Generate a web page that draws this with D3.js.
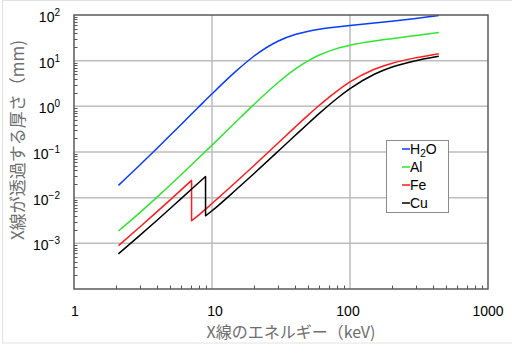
<!DOCTYPE html>
<html>
<head>
<meta charset="utf-8">
<script src="https://cdn.jsdelivr.net/npm/d3@7"></script>
<style>
  html, body { margin: 0; padding: 0; background: #fff; }
  svg { display: block; }
</style>
</head>
<body>
<svg id="chart" width="512" height="357"></svg>
<script>
// ---- data (attenuation length in mm vs X-ray energy in keV) ----
const energyKeV = [2.1, 3, 4, 5, 6, 8, 10, 15, 20, 30, 40, 50, 60, 80, 100, 150, 200, 300, 400, 440];
const h2oMm = [0.0186, 0.0518, 0.121, 0.235, 0.406, 0.964, 1.88, 5.98, 12.35, 26.6, 37.3, 44.1, 48.6, 54.4, 58.6, 66.4, 73.0, 84.3, 94.3, 97.9];
const alMm  = [0.00186, 0.0047, 0.01028, 0.01916, 0.0321, 0.0736, 0.1413, 0.466, 1.077, 3.285, 6.52, 10.07, 13.34, 18.36, 21.74, 26.9, 30.3, 35.6, 39.9, 41.6];
const feEnergyKeV = [2.1, 3, 4, 5, 6, 7.112, 7.112, 8, 10, 15, 20, 30, 40, 50, 60, 80, 100, 150, 200, 300, 400, 440];
const feMm  = [0.000888, 0.00228, 0.00495, 0.00908, 0.01497, 0.0239, 0.00312, 0.00416, 0.00744, 0.02225, 0.04945, 0.1553, 0.350, 0.6486, 1.054, 2.134, 3.417, 6.47, 8.70, 11.56, 13.51, 14.16];
const cuEnergyKeV = [2.1, 3, 4, 5, 6, 8, 8.979, 8.979, 10, 15, 20, 30, 40, 50, 60, 80, 100, 150, 200, 300, 400, 440];
const cuMm  = [0.000588, 0.00149, 0.00321, 0.00588, 0.00965, 0.02124, 0.02915, 0.00401, 0.00517, 0.01507, 0.03303, 0.1022, 0.2295, 0.4271, 0.7006, 1.463, 2.435, 5.034, 7.16, 9.97, 11.86, 12.48];

const seriesNames = ["H2O", "Al", "Fe", "Cu"];
const seriesColors = ["#0a3cff", "#2fe62f", "#ff1c1c", "#000000"];
const xTickValues = [1, 10, 100, 1000];
const xTickLabels = ["1", "10", "100", "1000"];
const yTickExponents = [2, 1, 0, -1, -2, -3];
const xTitle = "X線のエネルギー（keV)";
const yTitle = "X線が透過する厚さ（mm)";

// ---- layout ----
const L = 74, R = 488, T = 15, B = 289;
const svg = d3.select("#chart");

// outer light border
svg.append("rect").attr("x", 2.5).attr("y", 0.5).attr("width", 600).attr("height", 342.5)
  .attr("fill", "none").attr("stroke", "#e2e2e2").attr("stroke-width", 1);

const x = d3.scaleLog().domain([1, 1000]).range([L, R]);
const y = d3.scaleLog().domain([1e-4, 1e2]).range([B, T]);

// grid
const g = svg.append("g");
g.selectAll("line.hg").data(yTickExponents.filter(e => e < 2).map(e => Math.pow(10, e))).join("line")
  .attr("x1", L).attr("x2", R).attr("y1", d => y(d)).attr("y2", d => y(d))
  .attr("stroke", "#bdbdbd").attr("stroke-width", 1.5);
g.selectAll("line.vg").data([10, 100]).join("line")
  .attr("y1", T).attr("y2", B).attr("x1", d => x(d)).attr("x2", d => x(d))
  .attr("stroke", "#bdbdbd").attr("stroke-width", 1.5);

// minor ticks (inside)
const xMinor = [];
for (let k = 0; k < 3; k++) for (let m = 2; m <= 9; m++) xMinor.push(m * Math.pow(10, k));
const yMinor = [];
for (let k = -4; k < 2; k++) for (let m = 2; m <= 9; m++) yMinor.push(m * Math.pow(10, k));
g.selectAll("line.xm").data(xMinor).join("line")
  .attr("x1", d => Math.round(x(d)) + 0.5).attr("x2", d => Math.round(x(d)) + 0.5)
  .attr("y1", B).attr("y2", B - 3.5).attr("stroke", "#555").attr("stroke-width", 1);
g.selectAll("line.ym").data(yMinor).join("line")
  .attr("y1", d => Math.round(y(d)) + 0.5).attr("y2", d => Math.round(y(d)) + 0.5)
  .attr("x1", L).attr("x2", L + 3.5).attr("stroke", "#555").attr("stroke-width", 1);

// curves
const lineGen = d3.line().x(d => x(d[0])).y(d => y(d[1])).curve(d3.curveMonotoneX);
function pathFor(es, vs) {
  const pts = es.map((e, i) => [e, vs[i]]);
  const segs = [];
  let cur = [pts[0]];
  for (let i = 1; i < pts.length; i++) {
    if (pts[i][0] === pts[i - 1][0]) { segs.push(cur); cur = [pts[i]]; }
    else cur.push(pts[i]);
  }
  segs.push(cur);
  return segs.map((s, i) => {
    const d = lineGen(s);
    return i === 0 ? d : "L" + d.slice(1);
  }).join("");
}
const allSeries = [
  [energyKeV, h2oMm],
  [energyKeV, alMm],
  [feEnergyKeV, feMm],
  [cuEnergyKeV, cuMm]
];
svg.append("g").selectAll("path").data(allSeries).join("path")
  .attr("d", d => pathFor(d[0], d[1]))
  .attr("fill", "none")
  .attr("stroke", (d, i) => seriesColors[i])
  .attr("stroke-width", 1.5)
  .attr("stroke-linejoin", "round");

// frame
svg.append("rect").attr("x", L).attr("y", T).attr("width", R - L).attr("height", B - T)
  .attr("fill", "none").attr("stroke", "#5a5a5a").attr("stroke-width", 1.5);

// y tick labels
const yl = svg.append("g").attr("font-family", "'Liberation Sans', Arial, sans-serif").attr("fill", "#000");
yTickExponents.forEach(e => {
  const t = yl.append("text").attr("x", 60).attr("y", y(Math.pow(10, e)) + 7)
    .attr("text-anchor", "end").attr("font-size", 14);
  t.append("tspan").text("10");
  t.append("tspan").attr("font-size", 10).attr("dy", -6).text(e < 0 ? "−" + (-e) : String(e));
});

// x tick labels
svg.append("g").selectAll("text").data(xTickValues).join("text")
  .attr("x", d => x(d) + (d === 10 ? 3 : d === 100 ? -2 : d === 1 ? 1 : 0))
  .attr("y", 316)
  .attr("text-anchor", "middle")
  .attr("font-family", "'Liberation Sans', Arial, sans-serif")
  .attr("font-size", 14).attr("fill", "#000")
  .text((d, i) => xTickLabels[i]);

// axis titles
svg.append("text").attr("x", 291).attr("y", 338)
  .attr("text-anchor", "middle")
  .attr("font-family", "'Noto Sans CJK JP', sans-serif")
  .attr("font-size", 16).attr("fill", "#6e6e6e")
  .text(xTitle);
svg.append("text")
  .attr("transform", "translate(24,140) rotate(-90)")
  .attr("text-anchor", "middle")
  .attr("font-family", "'Noto Sans CJK JP', sans-serif")
  .attr("font-size", 17).attr("fill", "#6e6e6e")
  .text(yTitle);

// legend
const lg = svg.append("g");
lg.append("rect").attr("x", 386.5).attr("y", 140.5).attr("width", 62).attr("height", 72)
  .attr("fill", "#fff").attr("stroke", "#8c8c8c").attr("stroke-width", 1);
seriesNames.forEach((name, i) => {
  const yy = 149 + i * 18;
  lg.append("line").attr("x1", 402).attr("x2", 410).attr("y1", yy).attr("y2", yy)
    .attr("stroke", seriesColors[i]).attr("stroke-width", 1.5);
  const t = lg.append("text").attr("x", 410).attr("y", yy + 5)
    .attr("font-family", "'Liberation Sans', Arial, sans-serif")
    .attr("font-size", 14).attr("fill", "#000");
  if (name === "H2O") {
    t.append("tspan").text("H");
    t.append("tspan").attr("font-size", 10).attr("dy", 3).text("2");
    t.append("tspan").attr("dy", -3).text("O");
  } else {
    t.text(name);
  }
});
</script>
</body>
</html>
